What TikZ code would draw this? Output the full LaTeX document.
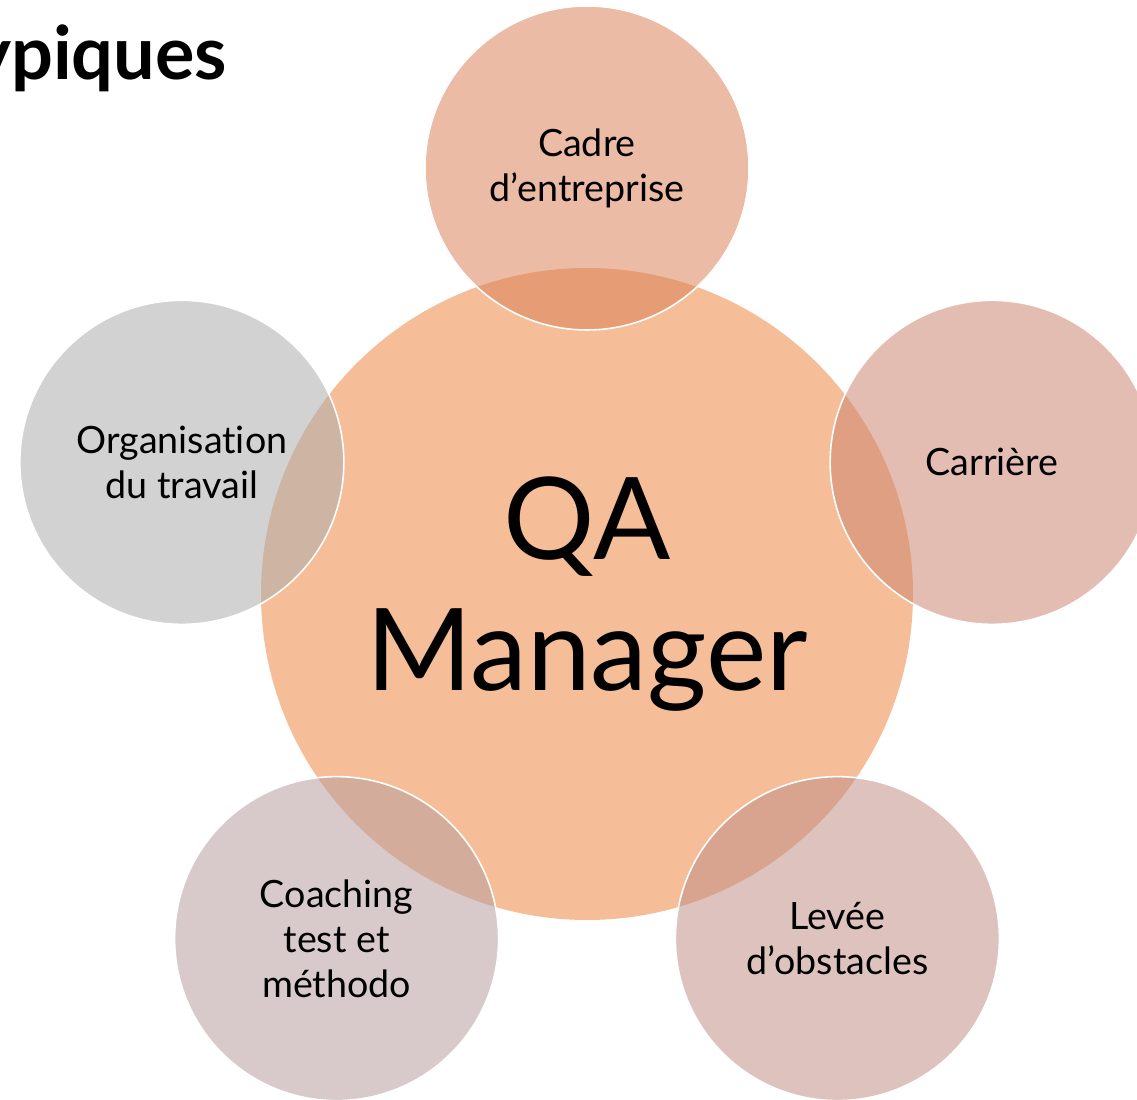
\documentclass[tikz,border=0pt]{standalone}
\usepackage{fontspec}
\setmainfont{Lato}[Ligatures=NoCommon]
\usetikzlibrary{positioning}
\definecolor{hubfill}{RGB}{245,190,152}
\definecolor{cadrefill}{RGB}{219,131,91}
\definecolor{carrfill}{RGB}{206,135,115}
\definecolor{orgafill}{RGB}{173,173,173}
\definecolor{coachfill}{RGB}{184,159,159}
\definecolor{leveefill}{RGB}{193,144,137}
\tikzset{
  hub/.style={circle,fill=hubfill,minimum size=6.52cm,inner sep=0pt,align=center,
    font=\fontsize{32.5}{37.5}\selectfont},
  spoke/.style={circle,draw=white,line width=0.45pt,fill opacity=0.55,text opacity=1,
    minimum size=3.24cm,inner sep=0pt,align=center,font=\fontsize{10.7}{12.8}\selectfont},
}

\begin{document}
\begin{tikzpicture}
  \path[use as bounding box,clip] (0,0) rectangle (11.37,11);
  % title, cut at the left edge
  \node[anchor=base east,inner sep=0pt,font=\fontsize{21}{25}\selectfont\bfseries] (title) at (2.28,10.2) {ypiques};
  % centre
  \node[hub] (qa) at (5.87,5.06) {QA\\Manager};
  % five satellites round the centre
  \node[spoke,fill=cadrefill] (cadre) at ([shift={(90:4.26)}]qa.center) {Cadre\\d’entreprise};
  \node[spoke,fill=carrfill] (carriere) at ([shift={(18:4.26)}]qa.center) {Carrière};
  \node[spoke,fill=leveefill] (levee) at ([shift={(-54:4.26)}]qa.center) {Levée\\d’obstacles};
  \node[spoke,fill=coachfill] (coaching) at ([shift={(-126:4.26)}]qa.center) {Coaching\\test et\\méthodo};
  \node[spoke,fill=orgafill] (orga) at ([shift={(162:4.26)}]qa.center) {Organisation\\du travail};
\end{tikzpicture}
\end{document}
